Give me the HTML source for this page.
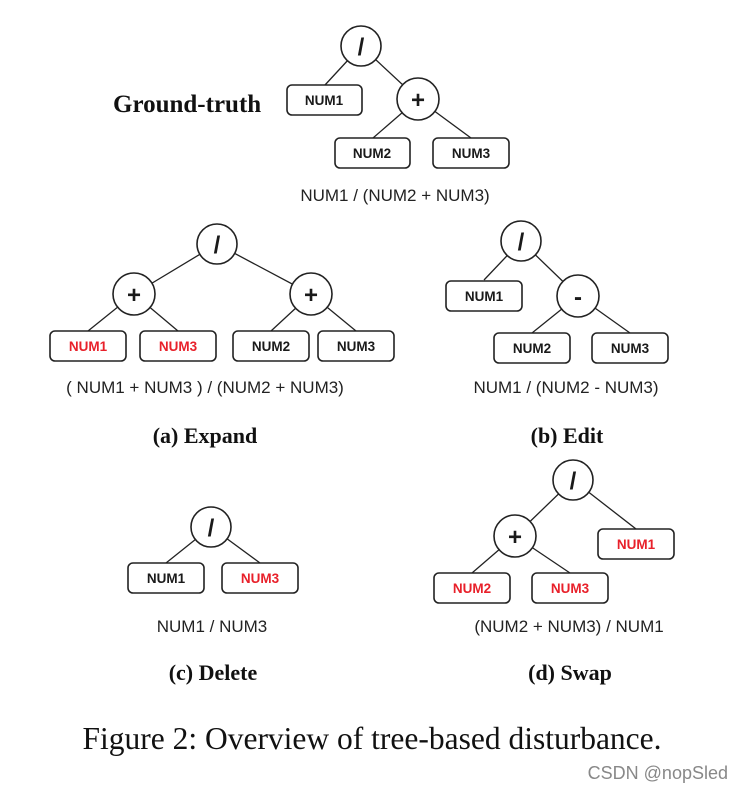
<!DOCTYPE html>
<html><head><meta charset="utf-8"><style>
html,body{margin:0;padding:0;background:#fff;}
svg{display:block;}
.b{fill:#fff;stroke:#222;stroke-width:1.6;}
.c{fill:#fff;stroke:#222;stroke-width:1.6;}
.l{stroke:#222;stroke-width:1.3;}
.n{font-family:"Liberation Sans",sans-serif;font-weight:bold;font-size:13.5px;text-anchor:middle;fill:#1a1a1a;}
.r{fill:#e8202a;}
.op{font-family:"Liberation Sans",sans-serif;font-weight:bold;font-size:24px;text-anchor:middle;fill:#1a1a1a;}
.ex{font-family:"Liberation Sans",sans-serif;font-size:17px;text-anchor:middle;fill:#222;}
.cap{font-family:"Liberation Serif",serif;font-weight:bold;font-size:22px;text-anchor:middle;fill:#111;}
</style></head><body>
<svg width="742" height="793" viewBox="0 0 742 793">
<text x="113" y="112" style="font-family:'Liberation Serif',serif;font-weight:bold;font-size:25px;fill:#111">Ground-truth</text>
<line class="l" x1="361" y1="46" x2="325" y2="85"/><line class="l" x1="361" y1="46" x2="418" y2="99"/>
<line class="l" x1="418" y1="99" x2="373" y2="138"/><line class="l" x1="418" y1="99" x2="471" y2="138"/>
<rect class="b" x="287" y="85" width="75" height="30" rx="5"/><text class="n" x="324" y="105">NUM1</text>
<rect class="b" x="335" y="138" width="75" height="30" rx="5"/><text class="n" x="372" y="158">NUM2</text>
<rect class="b" x="433" y="138" width="76" height="30" rx="5"/><text class="n" x="471" y="158">NUM3</text>
<circle class="c" cx="361" cy="46" r="20"/><text class="op" x="361" y="55">/</text>
<circle class="c" cx="418" cy="99" r="21"/><text class="op" x="418" y="108">+</text>
<text class="ex" x="395" y="201">NUM1 / (NUM2 + NUM3)</text>

<line class="l" x1="217" y1="244" x2="134" y2="294"/><line class="l" x1="217" y1="244" x2="311" y2="294"/>
<line class="l" x1="134" y1="294" x2="88" y2="331"/><line class="l" x1="134" y1="294" x2="178" y2="331"/>
<line class="l" x1="311" y1="294" x2="271" y2="331"/><line class="l" x1="311" y1="294" x2="356" y2="331"/>
<rect class="b" x="50" y="331" width="76" height="30" rx="5"/><text class="n r" x="88" y="351">NUM1</text>
<rect class="b" x="140" y="331" width="76" height="30" rx="5"/><text class="n r" x="178" y="351">NUM3</text>
<rect class="b" x="233" y="331" width="76" height="30" rx="5"/><text class="n" x="271" y="351">NUM2</text>
<rect class="b" x="318" y="331" width="76" height="30" rx="5"/><text class="n" x="356" y="351">NUM3</text>
<circle class="c" cx="217" cy="244" r="20"/><text class="op" x="217" y="253">/</text>
<circle class="c" cx="134" cy="294" r="21"/><text class="op r" x="134" y="303">+</text>
<circle class="c" cx="311" cy="294" r="21"/><text class="op" x="311" y="303">+</text>
<text class="ex" x="205" y="393">( NUM1 + NUM3 ) / (NUM2 + NUM3)</text>
<text class="cap" x="205" y="443">(a) Expand</text>

<line class="l" x1="521" y1="241" x2="484" y2="280"/><line class="l" x1="521" y1="241" x2="578" y2="296"/>
<line class="l" x1="578" y1="296" x2="532" y2="333"/><line class="l" x1="578" y1="296" x2="630" y2="333"/>
<rect class="b" x="446" y="281" width="76" height="30" rx="5"/><text class="n" x="484" y="301">NUM1</text>
<rect class="b" x="494" y="333" width="76" height="30" rx="5"/><text class="n" x="532" y="353">NUM2</text>
<rect class="b" x="592" y="333" width="76" height="30" rx="5"/><text class="n" x="630" y="353">NUM3</text>
<circle class="c" cx="521" cy="241" r="20"/><text class="op" x="521" y="250">/</text>
<circle class="c" cx="578" cy="296" r="21"/><text class="op r" x="578" y="305">-</text>
<text class="ex" x="566" y="393">NUM1 / (NUM2 - NUM3)</text>
<text class="cap" x="567" y="443">(b) Edit</text>

<line class="l" x1="211" y1="527" x2="166" y2="563"/><line class="l" x1="211" y1="527" x2="260" y2="563"/>
<rect class="b" x="128" y="563" width="76" height="30" rx="5"/><text class="n" x="166" y="583">NUM1</text>
<rect class="b" x="222" y="563" width="76" height="30" rx="5"/><text class="n r" x="260" y="583">NUM3</text>
<circle class="c" cx="211" cy="527" r="20"/><text class="op" x="211" y="536">/</text>
<text class="ex" x="212" y="632">NUM1 / NUM3</text>
<text class="cap" x="213" y="680">(c) Delete</text>

<line class="l" x1="573" y1="480" x2="515" y2="536"/><line class="l" x1="573" y1="480" x2="636" y2="529"/>
<line class="l" x1="515" y1="536" x2="472" y2="573"/><line class="l" x1="515" y1="536" x2="570" y2="573"/>
<rect class="b" x="598" y="529" width="76" height="30" rx="5"/><text class="n r" x="636" y="549">NUM1</text>
<rect class="b" x="434" y="573" width="76" height="30" rx="5"/><text class="n r" x="472" y="593">NUM2</text>
<rect class="b" x="532" y="573" width="76" height="30" rx="5"/><text class="n r" x="570" y="593">NUM3</text>
<circle class="c" cx="573" cy="480" r="20"/><text class="op" x="573" y="489">/</text>
<circle class="c" cx="515" cy="536" r="21"/><text class="op r" x="515" y="545">+</text>
<text class="ex" x="569" y="632">(NUM2 + NUM3) / NUM1</text>
<text class="cap" x="570" y="680">(d) Swap</text>

<text x="372" y="749" style="font-family:'Liberation Serif',serif;font-size:31.5px;text-anchor:middle;fill:#111">Figure 2: Overview of tree-based disturbance.</text>
<text x="728" y="779" style="font-family:'Liberation Sans',sans-serif;font-size:18px;text-anchor:end;fill:#888">CSDN @nopSled</text>
</svg>
</body></html>
